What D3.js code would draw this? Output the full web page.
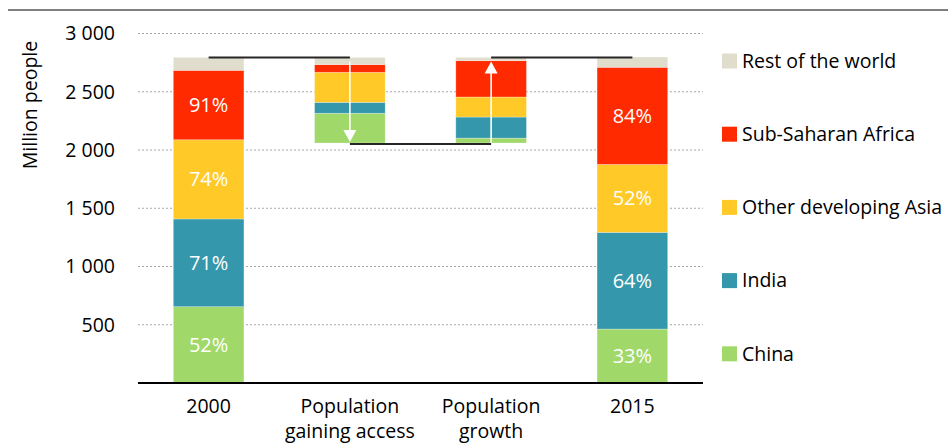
<!DOCTYPE html>
<html>
<head>
<meta charset="utf-8">
<script src="https://cdn.jsdelivr.net/npm/d3@7"></script>
<style>
  body { margin: 0; background: #fff; }
  svg { display: block; font-family: "Open Sans", sans-serif; }
</style>
</head>
<body>
<svg></svg>
<script>
// data (million people)
const categories = ["2000", "Population gaining access", "Population growth", "2015"];
const regions = ["China", "India", "Other developing Asia", "Sub-Saharan Africa", "Rest of the world"];
const colors = ["#a0d86a", "#3597ab", "#ffc928", "#ff2a00", "#e0ddcd"];
const values2000 = [655, 753, 680, 596, 111];
const gainingAccess = [255, 94, 258, 66, 62];
const growth = [42, 181, 172, 312, 28];
const values2015 = [463, 830, 583, 834, 88];
const share2000 = ["52%", "71%", "74%", "91%", null];
const share2015 = ["33%", "64%", "52%", "84%", null];
const yTicks = [500, 1000, 1500, 2000, 2500, 3000];

const width = 948, height = 444;
const svg = d3.select("svg").attr("width", width).attr("height", height);
const margin = { top: 33.5, right: 245, bottom: 61, left: 138 };
const fs = 19.5;

const x = d3.scaleBand().domain(categories)
    .range([margin.left, width - margin.right])
    .paddingInner(0.5).paddingOuter(0.25);
const y = d3.scaleLinear().domain([0, 3000]).range([height - margin.bottom, margin.top]);

// build stacks
const total2000 = d3.sum(values2000);
const drop = d3.sum(gainingAccess);
const bottom2 = total2000 - drop;

function stack(vals, base, labels) {
    let acc = base;
    return vals.map((v, i) => {
        const seg = { region: regions[i], y0: acc, y1: acc + v, color: colors[i], label: labels ? labels[i] : null };
        acc += v;
        return seg;
    });
}
const bars = [
    { cat: categories[0], segs: stack(values2000, 0, share2000) },
    { cat: categories[1], segs: stack(gainingAccess, bottom2) },
    { cat: categories[2], segs: stack(growth, bottom2) },
    { cat: categories[3], segs: stack(values2015, 0, share2015) }
];
const top3 = bottom2 + d3.sum(growth);

// top grey rule
svg.append("line")
    .attr("x1", 8).attr("x2", width).attr("y1", 10).attr("y2", 10)
    .attr("stroke", "#7f7f7f").attr("stroke-width", 2);

// gridlines
svg.append("g").selectAll("line").data(yTicks).join("line")
    .attr("x1", margin.left).attr("x2", width - margin.right)
    .attr("y1", d => y(d)).attr("y2", d => y(d))
    .attr("stroke", "#a6a6a6").attr("stroke-width", 1).attr("stroke-dasharray", "2,2");

// y tick labels
svg.append("g").selectAll("text").data(yTicks).join("text")
    .attr("x", 115).attr("y", d => y(d)).attr("dy", "0.35em")
    .attr("text-anchor", "end").attr("font-size", fs).attr("fill", "#000")
    .text(d => d3.format(",")(d).replace(",", " "));

svg.append("text")
    .attr("transform", "translate(37,105) rotate(-90)")
    .attr("text-anchor", "middle").attr("font-size", fs)
    .text("Million people");

// bars
const bw = x.bandwidth();
const barG = svg.append("g").selectAll("g").data(bars).join("g")
    .attr("transform", d => `translate(${x(d.cat)},0)`);
barG.selectAll("rect").data(d => d.segs).join("rect")
    .attr("x", 0).attr("width", bw)
    .attr("y", d => y(d.y1)).attr("height", d => y(d.y0) - y(d.y1))
    .attr("fill", d => d.color)
    .attr("stroke", "#fff").attr("stroke-opacity", 0.35).attr("stroke-width", 0.8);
barG.selectAll("text").data(d => d.segs.filter(s => s.label)).join("text")
    .attr("x", bw / 2).attr("y", d => (y(d.y0) + y(d.y1)) / 2).attr("dy", "0.35em")
    .attr("text-anchor", "middle").attr("font-size", 20).attr("fill", "#fff")
    .text(d => d.label);

// connectors
const cx = c => x(c) + bw / 2;
const connectors = [
    { from: categories[0], to: categories[1], v: total2000 },
    { from: categories[1], to: categories[2], v: bottom2 },
    { from: categories[2], to: categories[3], v: top3 }
];
svg.append("g").selectAll("line").data(connectors).join("line")
    .attr("x1", d => cx(d.from)).attr("x2", d => cx(d.to))
    .attr("y1", d => y(d.v) + (d.v === bottom2 ? 1 : 0))
    .attr("y2", d => y(d.v) + (d.v === bottom2 ? 1 : 0))
    .attr("stroke", "#262626").attr("stroke-width", 2);

// white arrows
const arrows = [
    { cat: categories[1], from: total2000, to: bottom2 },
    { cat: categories[2], from: bottom2, to: top3 }
];
const ag = svg.append("g").selectAll("g").data(arrows).join("g");
ag.append("line")
    .attr("x1", d => cx(d.cat)).attr("x2", d => cx(d.cat))
    .attr("y1", d => y(d.from) + (d.from > d.to ? 4 : 0))
    .attr("y2", d => y(d.to) + (d.from > d.to ? -10 : 10))
    .attr("stroke", "#fff").attr("stroke-width", 1.6);
ag.append("path")
    .attr("fill", "#fff")
    .attr("d", d => {
        const px = cx(d.cat), tip = y(d.to) + (d.from > d.to ? -1 : 4);
        const dir = d.from > d.to ? -1 : 1;
        return `M${px},${tip} L${px - 6.5},${tip + dir * 12} L${px + 6.5},${tip + dir * 12} Z`;
    });

// x axis line
svg.append("line")
    .attr("x1", margin.left).attr("x2", width - margin.right)
    .attr("y1", y(0)).attr("y2", y(0))
    .attr("stroke", "#000").attr("stroke-width", 2);

// x labels
const xLabels = [["2000"], ["Population", "gaining access"], ["Population", "growth"], ["2015"]];
svg.append("g").selectAll("text").data(categories).join("text")
    .attr("x", d => cx(d)).attr("y", 413)
    .attr("text-anchor", "middle").attr("font-size", fs)
    .selectAll("tspan").data((d, i) => xLabels[i]).join("tspan")
    .attr("x", function () { return this.parentNode.getAttribute("x"); })
    .attr("dy", (d, i) => i === 0 ? 0 : 25)
    .text(d => d);

// legend (top to bottom reversed order)
const legendItems = regions.map((r, i) => ({ r, c: colors[i] })).reverse();
const lg = svg.append("g").selectAll("g").data(legendItems).join("g")
    .attr("transform", (d, i) => `translate(722,${61 + i * 73.2})`);
lg.append("rect").attr("x", 0).attr("y", -7.5).attr("width", 15).attr("height", 15).attr("fill", d => d.c);
lg.append("text").attr("x", 20).attr("dy", "0.35em").attr("font-size", fs).text(d => d.r);
</script>
</body>
</html>
